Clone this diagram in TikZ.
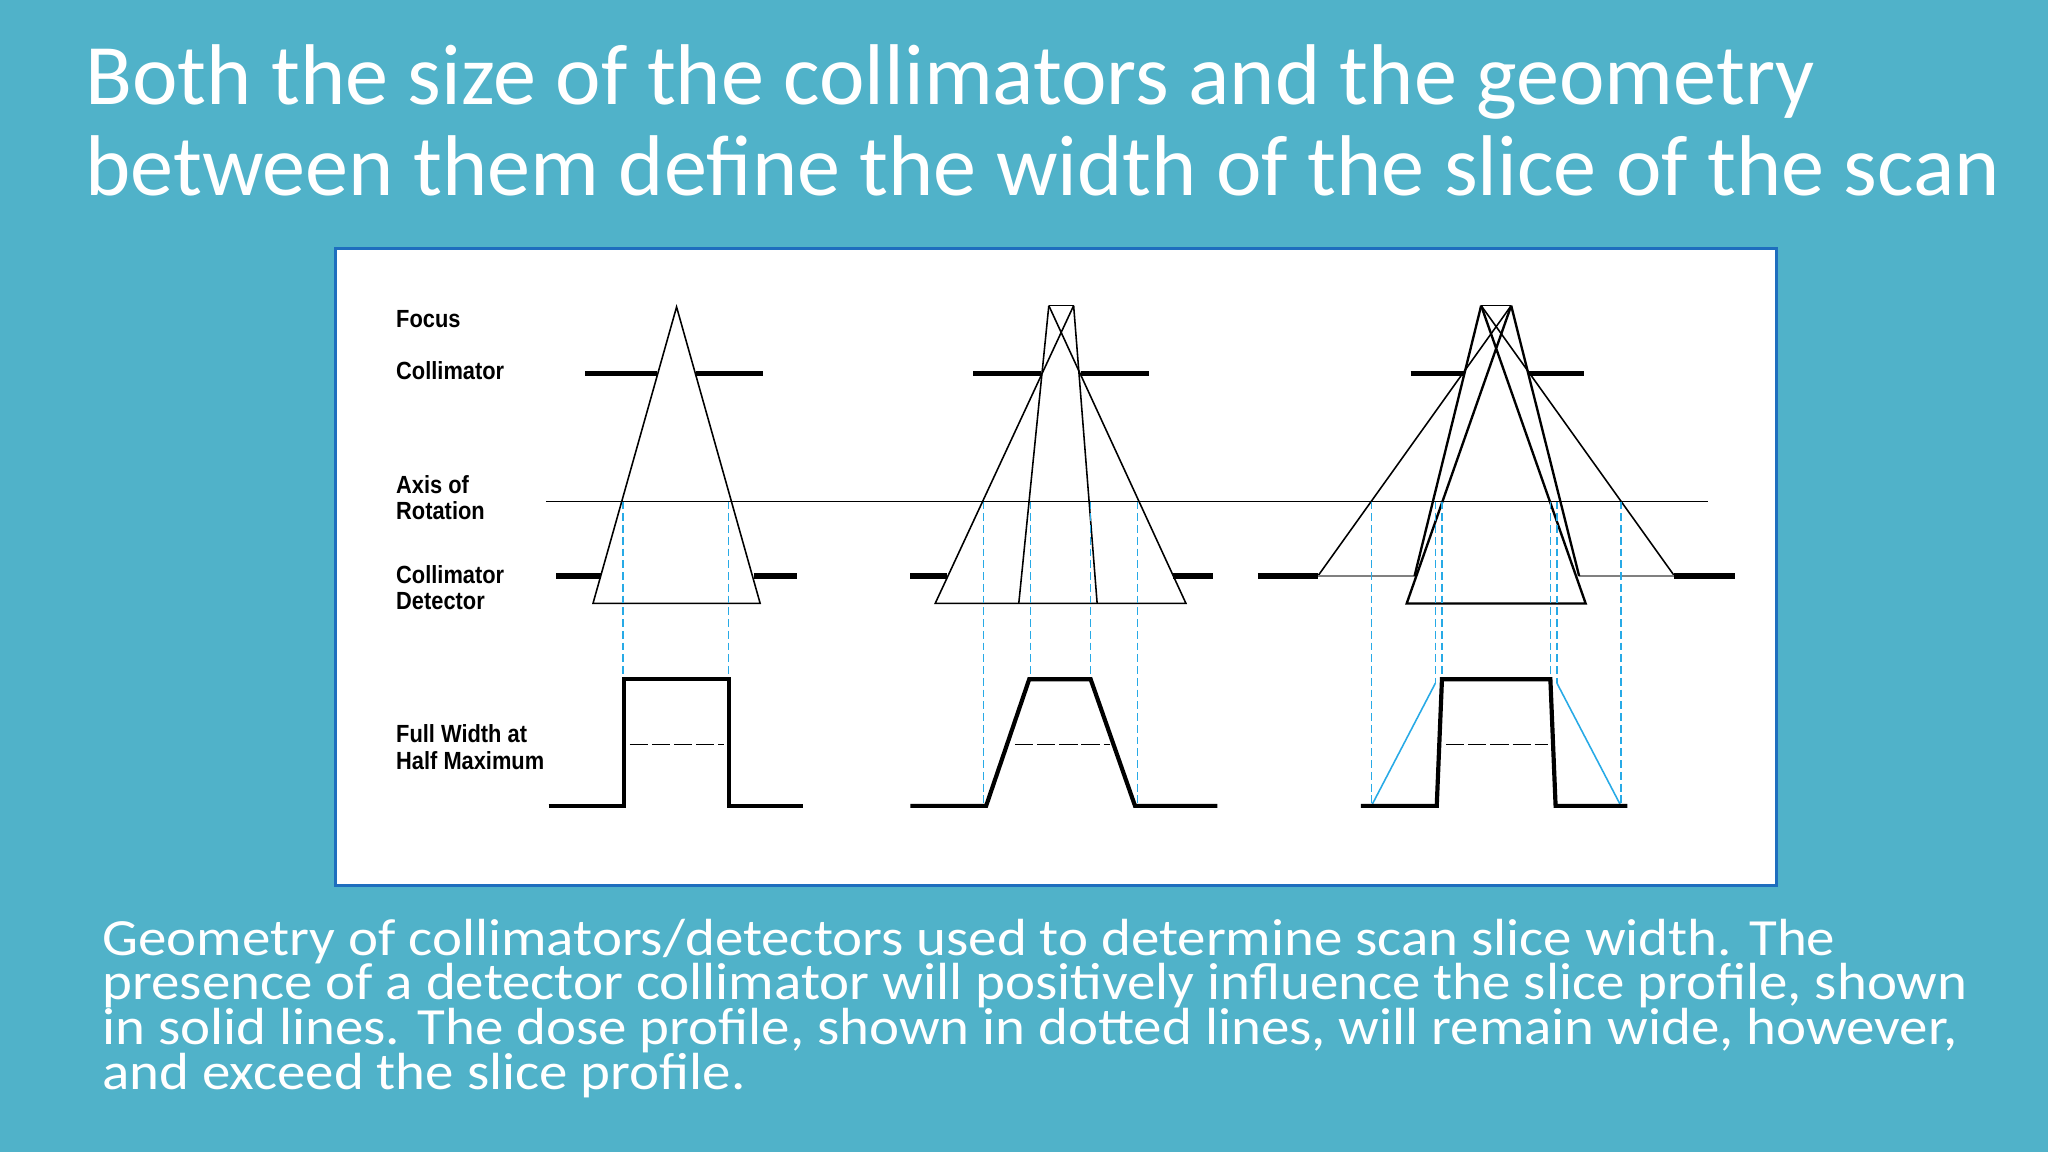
\documentclass[tikz,border=0pt]{standalone}
\usepackage{fontspec}
\setmainfont{Carlito}
\newfontfamily\lblfont{Liberation Sans}
\definecolor{bg}{RGB}{80,178,201}
\definecolor{frame}{RGB}{30,110,190}
\definecolor{dose}{RGB}{40,170,230}
\begin{document}
\begin{tikzpicture}[x=0.5pt,y=-0.5pt,
  thin/.style={line width=0.6pt,black},
  bar/.style={line width=2pt,black},
  prof/.style={line width=1.6pt,black,line join=miter},
  blued/.style={dose,line width=0.5pt,dash pattern=on 3pt off 1.5pt},
  blues/.style={dose,line width=0.6pt},
  hm/.style={black,line width=0.6pt,dash pattern=on 7pt off 1.5pt},
  lbl/.style={anchor=west,font=\lblfont\bfseries\fontsize{9.5}{10}\selectfont,align=left,inner sep=0pt,xscale=0.88}]
\fill[bg] (0,0) rectangle (1568,882);
\useasboundingbox (0,0) rectangle (1568,882);
% title
\node[anchor=base west,text=white,inner sep=0pt,font=\fontsize{33}{35}\selectfont] (t1) at (65,80) {Both the size of the collimators and the geometry};
\node[anchor=base west,text=white,inner sep=0pt,font=\fontsize{33}{35}\selectfont] (t2) at (65,150) {between them define the width of the slice of the scan};
% frame
\draw[fill=white,draw=frame,line width=1.2pt] (257,190) rectangle (1360,678);
% labels
\node[lbl] (lf) at (303,244) {Focus};
\node[lbl] (lc) at (303,284) {Collimator};
\node[lbl] (la) at (303,381) {Axis of\\Rotation};
\node[lbl] (ld) at (303,450) {Collimator\\Detector};
\node[lbl] (lw) at (303,572) {Full Width at\\Half Maximum};
% axis
\draw[thin] (418,384) -- (1308,384);
% ---------- diagram 1
\coordinate (f1) at (518,235);
\draw[thin] (454,462) -- (f1) -- (582,462) -- cycle;
\draw[bar] (448,286) -- (503,286) (533,286) -- (584,286);
\draw[bar] (426,441) -- (460,441) (577,441) -- (610,441);
\draw[blued] (477,384) -- (477,520) (558,384) -- (558,520);
\draw[prof] (420,617) -- (478,617) -- (478,520) -- (558,520) -- (558,617) -- (615,617);
\draw[hm] (482,570) -- (554,570);
% ---------- diagram 2
\coordinate (a2) at (803,234); \coordinate (b2) at (822,234);
\draw[thin] (a2) -- (b2);
\draw[thin] (b2) -- (716,462) -- (908,462) -- (a2);
\draw[thin] (a2) -- (780,462) (b2) -- (840,462);
\draw[bar] (745,286) -- (797,286) (828,286) -- (880,286);
\draw[bar] (697,441) -- (725,441) (898,441) -- (929,441);
\draw[blued] (753,384) -- (753,617) (789,384) -- (789,520) (835,384) -- (835,520) (871,384) -- (871,617);
\draw[prof] (697,617) -- (755,617) -- (788,520) -- (835,520) -- (869,617) -- (932,617);
\draw[hm] (777,570) -- (850,570);
% ---------- diagram 3
\coordinate (a3) at (1134,234); \coordinate (b3) at (1157,234);
\draw[thin] (a3) -- (b3);
\draw[thin] (1009,441) -- (b3) (1282,441) -- (a3);
\draw[line width=0.4pt,gray] (1009,441) -- (1083,441) (1209,441) -- (1282,441);
\draw[line width=0.9pt] (b3) -- (1077,462) -- (1214,462) -- (a3);
\draw[line width=0.9pt] (a3) -- (1083,441) (b3) -- (1209,441);
\draw[bar] (1080,286) -- (1121,286) (1171,286) -- (1213,286);
\draw[bar] (963,441) -- (1009,441) (1282,441) -- (1328,441);
\draw[blued] (1050,384) -- (1050,617) (1099,384) -- (1099,523) (1104,384) -- (1104,520)
  (1187,384) -- (1187,520) (1192,384) -- (1192,523) (1241,384) -- (1241,617);
\draw[blues] (1050,617) -- (1099,523) (1192,523) -- (1241,617);
\draw[prof] (1042,617) -- (1100,617) -- (1104,520) -- (1187,520) -- (1191,617) -- (1246,617);
\draw[hm] (1107,570) -- (1185,570);
% caption
\node[anchor=north west,text=white,inner sep=0pt,align=left,xscale=1.09,font=\fontsize{20}{17.2}\selectfont] (cap) at (78,703)
{Geometry of collimators/detectors used to determine scan slice width. The\\
presence of a detector collimator will positively influence the slice profile, shown\\
in solid lines. The dose profile, shown in dotted lines, will remain wide, however,\\
and exceed the slice profile.};
\end{tikzpicture}
\end{document}
